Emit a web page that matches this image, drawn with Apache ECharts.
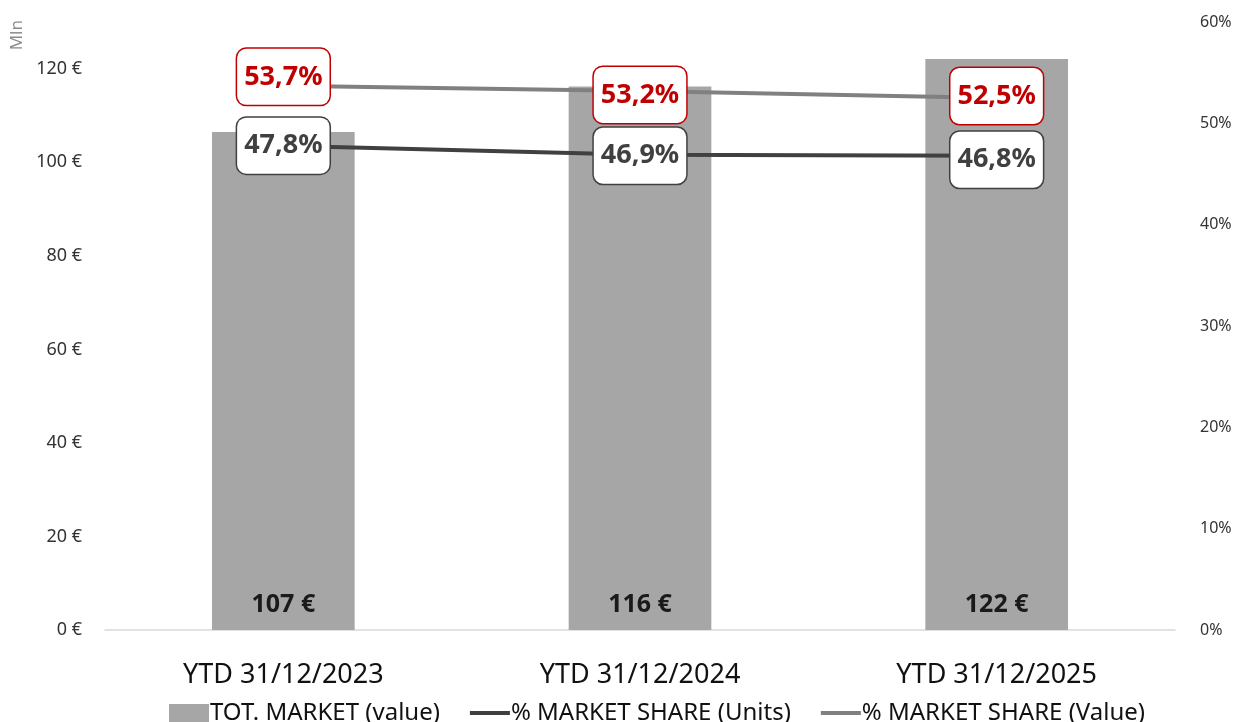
<!DOCTYPE html>
<html>
<head>
<meta charset="utf-8">
<script src="https://cdn.jsdelivr.net/npm/echarts@6/dist/echarts.min.js"></script>
<style>html,body{margin:0;padding:0;background:#fff}#c{width:1238px;height:722px}</style>
</head>
<body>
<div id="c"></div>
<script>
const categories = ['YTD 31/12/2023', 'YTD 31/12/2024', 'YTD 31/12/2025'];
const totMarket = [106.5, 116.2, 122.1];
const shareUnits = [47.8, 46.9, 46.8];
const shareValue = [53.7, 53.2, 52.5];
const leftTicks = [0, 20, 40, 60, 80, 100, 120];
const rightTicks = [0, 10, 20, 30, 40, 50, 60];
const seriesNames = ['TOT. MARKET (value)', '% MARKET SHARE (Units)', '% MARKET SHARE (Value)'];

const FONT = 'Noto Sans';
const fmtPct = v => v.toFixed(1).replace('.', ',') + '%';
const lineIcon = 'path://M0,0 L40,0 M0,7 L40,7 L40,11 L0,11 Z M0,18 L40,18';

const chart = echarts.init(document.getElementById('c'), null, {renderer: 'canvas'});
chart.setOption({
  animation: false,
  textStyle: {fontFamily: FONT},
  grid: {left: 105, right: 63, top: 22, bottom: 92, containLabel: false},
  legend: {
    bottom: -8, left: 164, itemGap: 30, itemWidth: 40, itemHeight: 18,
    textStyle: {fontSize: 24, color: '#111', fontFamily: FONT, padding: [0, 0, 0, -4]},
    data: [
      {name: seriesNames[0], icon: 'rect'},
      {name: seriesNames[1], icon: lineIcon},
      {name: seriesNames[2], icon: lineIcon}
    ]
  },
  graphic: [{
    type: 'text', left: 9, top: 20, rotation: Math.PI / 2,
    style: {text: 'Mln', fill: '#8c8c8c', fontSize: 17, fontFamily: FONT}
  }],
  xAxis: {
    type: 'category', data: categories,
    axisLine: {lineStyle: {color: '#d9d9d9', width: 1.5}},
    axisTick: {show: false},
    axisLabel: {fontSize: 27, color: '#111', margin: 32, fontFamily: FONT}
  },
  yAxis: [{
    type: 'value', min: 0, max: 130, interval: 20,
    axisLine: {show: false}, axisTick: {show: false}, splitLine: {show: false},
    axisLabel: {
      fontSize: 18, color: '#333', margin: 23, showMaxLabel: false,
      formatter: v => leftTicks.includes(v) ? v + ' €' : ''
    }
  }, {
    type: 'value', min: 0, max: 60, interval: 10, position: 'right',
    axisLine: {show: false}, axisTick: {show: false}, splitLine: {show: false},
    axisLabel: {
      fontSize: 16, color: '#333', margin: 25, align: 'left',
      formatter: v => rightTicks.includes(v) ? v + '%' : ''
    }
  }],
  series: [{
    name: seriesNames[0], type: 'bar', data: totMarket, barWidth: '40%',
    itemStyle: {color: '#a6a6a6'},
    label: {
      show: true, position: 'insideBottom', distance: 13,
      fontSize: 25, fontWeight: 'bold', color: '#1a1a1a', fontFamily: FONT,
      formatter: p => Math.round(p.value) + ' €'
    }
  }, {
    name: seriesNames[1], type: 'line', yAxisIndex: 1,
    data: shareUnits.map((v, i) => ({value: v, label: {offset: [0, [0, 1, 4][i]]}})),
    symbol: 'circle', symbolSize: 1, z: 5,
    lineStyle: {color: '#404040', width: 4}, itemStyle: {color: '#404040'},
    label: {
      show: true, position: 'inside', formatter: p => fmtPct(p.value),
      fontSize: 27, fontWeight: 'bold', color: '#404040', fontFamily: FONT,
      backgroundColor: '#fff', borderColor: '#404040', borderWidth: 1.5, borderRadius: 9,
      padding: [15, 7, 14, 7]
    }
  }, {
    name: seriesNames[2], type: 'line', yAxisIndex: 1,
    data: shareValue.map((v, i) => ({value: v, label: {offset: [0, [-9, 4, -2][i]]}})),
    symbol: 'circle', symbolSize: 1, z: 6,
    lineStyle: {color: '#808080', width: 4}, itemStyle: {color: '#808080'},
    label: {
      show: true, position: 'inside', formatter: p => fmtPct(p.value),
      fontSize: 27, fontWeight: 'bold', color: '#c00000', fontFamily: FONT,
      backgroundColor: '#fff', borderColor: '#c00000', borderWidth: 1.5, borderRadius: 9,
      padding: [15, 7, 14, 7]
    }
  }]
});
</script>
</body>
</html>
